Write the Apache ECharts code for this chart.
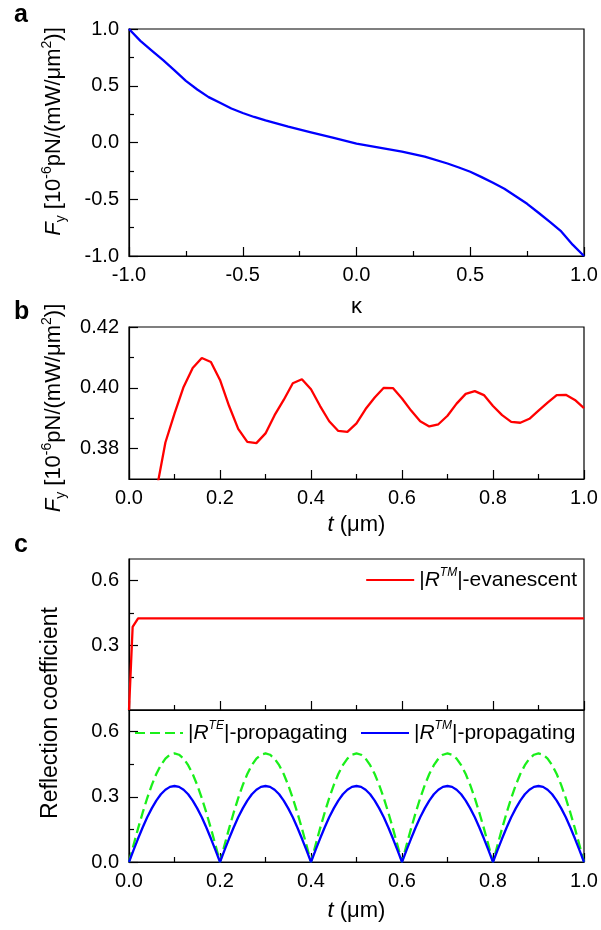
<!DOCTYPE html>
<html><head><meta charset="utf-8">
<script src="https://cdn.jsdelivr.net/npm/echarts@6/dist/echarts.min.js"></script>
<style>html,body{margin:0;padding:0;background:#fff}#c{width:601px;height:930px}</style>
</head><body><div id="c"></div>
<script>
// Panel a
const kappa = [-1,-0.95,-0.9,-0.85,-0.8,-0.75,-0.7,-0.65,-0.6,-0.55,-0.5,-0.45,-0.4,-0.3,-0.2,-0.1,0,0.1,0.2,0.3,0.4,0.45,0.5,0.55,0.6,0.65,0.7,0.75,0.8,0.85,0.9,0.95,1];
const fyA = [1.0,0.895,0.81,0.725,0.635,0.543,0.467,0.40,0.35,0.30,0.26,0.225,0.195,0.14,0.09,0.04,-0.01,-0.045,-0.08,-0.125,-0.185,-0.22,-0.258,-0.305,-0.355,-0.408,-0.474,-0.54,-0.619,-0.699,-0.784,-0.90,-1.0];
// Panel b
const tB = [0.04,0.06,0.08,0.10,0.12,0.14,0.16,0.18,0.20,0.22,0.24,0.26,0.28,0.30,0.32,0.34,0.36,0.38,0.40,0.42,0.44,0.46,0.48,0.50,0.52,0.54,0.56,0.58,0.60,0.62,0.64,0.66,0.68,0.70,0.72,0.74,0.76,0.78,0.80,0.82,0.84,0.86,0.88,0.90,0.92,0.94,0.96,0.98,1.00];
const fyB = [0.348,0.366,0.382,0.3915,0.4003,0.4065,0.4098,0.4085,0.4026,0.394,0.3865,0.3822,0.3818,0.385,0.391,0.396,0.4015,0.4028,0.3995,0.394,0.389,0.3858,0.3855,0.3883,0.393,0.3968,0.4,0.3999,0.3965,0.3925,0.389,0.3873,0.388,0.3908,0.3948,0.398,0.3989,0.3976,0.394,0.391,0.3888,0.3885,0.3898,0.3925,0.3951,0.3976,0.3977,0.396,0.3933];
// Panel c (top)
const tEv = [0, 0.008, 0.02, 1.0];
const rEv = [0, 0.385, 0.425, 0.425];
// Panel c (bottom)
const tC = [0,0.01,0.02,0.03,0.04,0.05,0.06,0.07,0.08,0.09,0.10,0.11,0.12,0.13,0.14,0.15,0.16,0.17,0.18,0.19,
            0.20,0.21,0.22,0.23,0.24,0.25,0.26,0.27,0.28,0.29,0.30,0.31,0.32,0.33,0.34,0.35,0.36,0.37,0.38,0.39,
            0.40,0.41,0.42,0.43,0.44,0.45,0.46,0.47,0.48,0.49,0.50,0.51,0.52,0.53,0.54,0.55,0.56,0.57,0.58,0.59,
            0.60,0.61,0.62,0.63,0.64,0.65,0.66,0.67,0.68,0.69,0.70,0.71,0.72,0.73,0.74,0.75,0.76,0.77,0.78,0.79,
            0.80,0.81,0.82,0.83,0.84,0.85,0.86,0.87,0.88,0.89,0.90,0.91,0.92,0.93,0.94,0.95,0.96,0.97,0.98,0.99,1.00];
const rTE = [0,0.078,0.155,0.227,0.294,0.354,0.405,0.446,0.476,0.494,0.5,0.494,0.476,0.446,0.405,0.354,0.294,0.227,0.155,0.078,
             0,0.078,0.155,0.227,0.294,0.354,0.405,0.446,0.476,0.494,0.5,0.494,0.476,0.446,0.405,0.354,0.294,0.227,0.155,0.078,
             0,0.078,0.155,0.227,0.294,0.354,0.405,0.446,0.476,0.494,0.5,0.494,0.476,0.446,0.405,0.354,0.294,0.227,0.155,0.078,
             0,0.078,0.155,0.227,0.294,0.354,0.405,0.446,0.476,0.494,0.5,0.494,0.476,0.446,0.405,0.354,0.294,0.227,0.155,0.078,
             0,0.078,0.155,0.227,0.294,0.354,0.405,0.446,0.476,0.494,0.5,0.494,0.476,0.446,0.405,0.354,0.294,0.227,0.155,0.078,0];
const rTM = [0,0.055,0.108,0.159,0.206,0.247,0.283,0.312,0.333,0.346,0.35,0.346,0.333,0.312,0.283,0.247,0.206,0.159,0.108,0.055,
             0,0.055,0.108,0.159,0.206,0.247,0.283,0.312,0.333,0.346,0.35,0.346,0.333,0.312,0.283,0.247,0.206,0.159,0.108,0.055,
             0,0.055,0.108,0.159,0.206,0.247,0.283,0.312,0.333,0.346,0.35,0.346,0.333,0.312,0.283,0.247,0.206,0.159,0.108,0.055,
             0,0.055,0.108,0.159,0.206,0.247,0.283,0.312,0.333,0.346,0.35,0.346,0.333,0.312,0.283,0.247,0.206,0.159,0.108,0.055,
             0,0.055,0.108,0.159,0.206,0.247,0.283,0.312,0.333,0.346,0.35,0.346,0.333,0.312,0.283,0.247,0.206,0.159,0.108,0.055,0];
// Tick labels
const yTicksB = [0.38, 0.40, 0.42];
const yMinorB = [0.39, 0.41];
const yTicksCTop = [0.3, 0.6];
const yTicksCBot = [0, 0.3, 0.6];
const yMinorC = [0.15, 0.45];

const zip = (xs, ys) => xs.map((x, i) => [x, ys[i]]);
const FONT = 'Liberation Sans';
const BLACK = '#000';
const LBL = 20;

const nameRich = {
  it: {fontStyle: 'italic', fontSize: 22, fontFamily: FONT, lineHeight: 28, color: BLACK},
  sub: {fontSize: 14, fontFamily: FONT, verticalAlign: 'bottom', lineHeight: 14, color: BLACK},
  sup: {fontSize: 14, fontFamily: FONT, verticalAlign: 'top', lineHeight: 14, color: BLACK}
};
function nameStyle(pad) {
  return {fontSize: 22, fontFamily: FONT, color: BLACK, lineHeight: 28, rich: nameRich, padding: pad || 0};
}
const fyName = '{it|F}{sub|y} [10{sup|-6}pN/(mW/μm{sup|2})]';
const tName = '{it|t} (μm)';

function xAx(grid, opts) {
  return Object.assign({
    type: 'value', gridIndex: grid, position: 'bottom',
    axisLine: {show: true, onZero: false, lineStyle: {color: BLACK, width: 1.2}},
    axisTick: {show: true, inside: true, length: 9, lineStyle: {color: BLACK, width: 1.2}},
    minorTick: {show: true, splitNumber: 2, length: 5, lineStyle: {color: BLACK, width: 1.2}},
    splitLine: {show: false},
    axisLabel: {fontSize: LBL, fontFamily: FONT, color: BLACK, margin: 9, formatter: v => v.toFixed(1)},
    nameLocation: 'middle', nameGap: 38, nameTextStyle: nameStyle()
  }, opts);
}
function yAx(grid, opts) {
  return Object.assign({
    type: 'value', gridIndex: grid, position: 'left',
    axisLine: {show: true, onZero: false, lineStyle: {color: BLACK, width: 1.2}},
    axisTick: {show: true, inside: true, length: 9, lineStyle: {color: BLACK, width: 1.2}},
    splitLine: {show: false},
    axisLabel: {fontSize: LBL, fontFamily: FONT, color: BLACK, margin: 10},
    nameLocation: 'middle', nameRotate: 90, nameGap: 61, nameTextStyle: nameStyle()
  }, opts);
}
function minorY(grid, min, max, vals) {
  return {
    type: 'value', gridIndex: grid, position: 'left', min: min, max: max,
    axisLine: {show: false},
    axisTick: {show: true, inside: true, length: 5, customValues: vals, lineStyle: {color: BLACK, width: 1.2}},
    axisLabel: {show: false}, splitLine: {show: false}
  };
}

const legendRich = {
  it: {fontStyle: 'italic', fontSize: 21, fontFamily: FONT, lineHeight: 26, color: BLACK},
  sup: {fontStyle: 'italic', fontSize: 12, fontFamily: FONT, verticalAlign: 'top', lineHeight: 12, color: BLACK}
};
const legendText = {fontSize: 21, fontFamily: FONT, color: BLACK, lineHeight: 26, rich: legendRich};
const legendLabels = {
  evan: '|{it|R}{sup|TM}|-evanescent',
  te: '|{it|R}{sup|TE}|-propagating',
  tm: '|{it|R}{sup|TM}|-propagating'
};
function leg(name, pos) {
  return Object.assign({
    data: [name], selectedMode: false, itemWidth: 48, itemHeight: 14, padding: 0,
    itemStyle: {opacity: 0},
    formatter: n => legendLabels[n], textStyle: legendText
  }, pos);
}

const gridBase = {show: true, borderColor: BLACK, borderWidth: 1.2, backgroundColor: 'transparent', left: 129, width: 455, containLabel: false};

const chart = echarts.init(document.getElementById('c'), null, {renderer: 'canvas'});
chart.setOption({
  backgroundColor: '#fff',
  animation: false,
  grid: [
    Object.assign({}, gridBase, {top: 29, height: 227}),
    Object.assign({}, gridBase, {top: 327, height: 152}),
    Object.assign({}, gridBase, {top: 559, height: 151}),
    Object.assign({}, gridBase, {top: 710, height: 152})
  ],
  xAxis: [
    xAx(0, {min: -1, max: 1, interval: 0.5, name: 'κ', nameGap: 37}),
    xAx(1, {min: 0, max: 1, interval: 0.2, name: tName, nameGap: 32}),
    xAx(2, {min: 0, max: 1, interval: 0.2, axisLabel: {show: false}}),
    xAx(3, {min: 0, max: 1, interval: 0.2, name: tName, nameGap: 35})
  ],
  yAxis: [
    yAx(0, {min: -1, max: 1, interval: 0.5, name: fyName, nameTextStyle: nameStyle([0, 0, 0, 22]),
      minorTick: {show: true, splitNumber: 2, length: 5, lineStyle: {color: BLACK, width: 1.2}},
      axisLabel: {fontSize: LBL, fontFamily: FONT, color: BLACK, margin: 10, formatter: v => v.toFixed(1)}}),
    yAx(1, {min: 0.37, max: 0.42, name: fyName, nameTextStyle: nameStyle([0, 10, 0, 0]),
      axisTick: {show: true, inside: true, length: 9, customValues: yTicksB, lineStyle: {color: BLACK, width: 1.2}},
      axisLabel: {fontSize: LBL, fontFamily: FONT, color: BLACK, margin: 10, customValues: yTicksB, formatter: v => v.toFixed(2)}}),
    minorY(1, 0.37, 0.42, yMinorB),
    yAx(2, {min: 0, max: 0.7,
      axisTick: {show: true, inside: true, length: 9, customValues: yTicksCTop, lineStyle: {color: BLACK, width: 1.2}},
      axisLabel: {fontSize: LBL, fontFamily: FONT, color: BLACK, margin: 10, customValues: yTicksCTop, formatter: v => v.toFixed(1)}}),
    minorY(2, 0, 0.7, yMinorC),
    yAx(3, {min: 0, max: 0.7,
      axisTick: {show: true, inside: true, length: 9, customValues: yTicksCBot, lineStyle: {color: BLACK, width: 1.2}},
      axisLabel: {fontSize: LBL, fontFamily: FONT, color: BLACK, margin: 10, customValues: yTicksCBot, formatter: v => v.toFixed(1)}}),
    minorY(3, 0, 0.7, yMinorC)
  ],
  legend: [
    leg('evan', {right: 24, top: 567}),
    leg('te', {left: 134, top: 720}),
    leg('tm', {left: 360, top: 720})
  ],
  graphic: [
    {type: 'text', left: 14, top: 3, style: {text: 'a', font: 'bold 25px "Liberation Sans"', fill: BLACK}},
    {type: 'text', left: 14, top: 300, style: {text: 'b', font: 'bold 25px "Liberation Sans"', fill: BLACK}},
    {type: 'text', left: 14, top: 533, style: {text: 'c', font: 'bold 25px "Liberation Sans"', fill: BLACK}},
    {type: 'text', x: 51, y: 713, rotation: Math.PI / 2,
      style: {text: 'Reflection coefficient', font: '23px "Liberation Sans"', fill: BLACK, textAlign: 'center', textVerticalAlign: 'middle'}}
  ],
  series: [
    {type: 'line', xAxisIndex: 0, yAxisIndex: 0, data: zip(kappa, fyA), symbol: 'none', lineStyle: {color: '#0000ff', width: 2.3}, itemStyle: {color: '#0000ff'}},
    {type: 'line', xAxisIndex: 1, yAxisIndex: 1, data: zip(tB, fyB), symbol: 'none', clip: true, lineStyle: {color: '#ff0000', width: 2.3}, itemStyle: {color: '#ff0000'}},
    {name: 'evan', type: 'line', xAxisIndex: 2, yAxisIndex: 3, data: zip(tEv, rEv), symbol: 'none', lineStyle: {color: '#ff0000', width: 2.3}, itemStyle: {color: '#ff0000'}},
    {name: 'te', type: 'line', xAxisIndex: 3, yAxisIndex: 5, data: zip(tC, rTE), symbol: 'none', lineStyle: {color: '#1aef1a', width: 2.3, type: [10, 5]}, itemStyle: {color: '#1aef1a'}},
    {name: 'tm', type: 'line', xAxisIndex: 3, yAxisIndex: 5, data: zip(tC, rTM), symbol: 'none', lineStyle: {color: '#0000ff', width: 2.3}, itemStyle: {color: '#0000ff'}}
  ]
});
</script>
</body></html>
